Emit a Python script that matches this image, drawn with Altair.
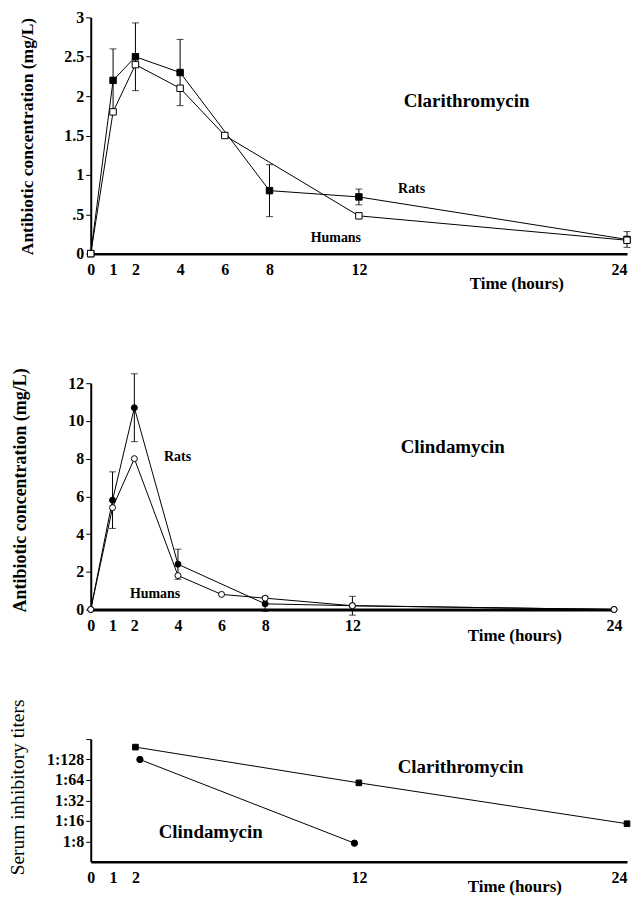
import altair as alt
import pandas as pd

FONT = "Liberation Serif"

# ---------------- data ----------------
x_ticks = [0, 1, 2, 4, 6, 8, 12, 24]
x_ticks_sit = [0, 1, 2, 12, 24]

# Clarithromycin serum concentration (mg/L)
cla_rat_t = [0, 1, 2, 4, 8, 12, 24]
cla_rat_v = [0, 2.2, 2.5, 2.3, 0.8, 0.72, 0.18]
cla_rat_err = [0, 0.4, 0.43, 0.42, 0.33, 0.1, 0.1]
cla_hum_t = [0, 1, 2, 4, 6, 12, 24]
cla_hum_v = [0, 1.8, 2.4, 2.1, 1.5, 0.48, 0.17]
cla_y_ticks = [0, 0.5, 1, 1.5, 2, 2.5, 3]

# Clindamycin serum concentration (mg/L)
cli_rat_t = [0, 1, 2, 4, 8, 12, 24]
cli_rat_v = [0, 5.8, 10.7, 2.4, 0.3, 0.2, 0.0]
cli_rat_err = [0, 1.5, 1.8, 0.8, 0.4, 0.5, 0]
cli_hum_t = [0, 1, 2, 4, 6, 8, 12, 24]
cli_hum_v = [0, 5.4, 8.0, 1.8, 0.8, 0.6, 0.2, 0.0]
cli_y_ticks = [0, 2, 4, 6, 8, 10, 12]

# Serum inhibitory titers (reciprocal of dilution); axis is in log2 units
sit_cla_t = [2, 12, 24]
sit_cla_v = [195, 58, 14.5]
sit_cli_t = [2.2, 11.8]
sit_cli_v = [128, 7.5]
sit_y_ticks_log2 = [3, 4, 5, 6, 7, 8]   # 1:8 ... 1:256
sit_y_domain_log2 = [2, 8]              # 1:4 ... 1:256

# annotations (data coordinates)
ann_top = pd.DataFrame({"t": [16.82, 14.36, 10.97], "v": [1.94, 0.82, 0.2],
                        "txt": ["Clarithromycin", "Rats", "Humans"], "fs": [19, 14, 14]})
ann_mid = pd.DataFrame({"t": [16.6, 3.98, 2.95], "v": [8.6, 8.08, 0.83],
                        "txt": ["Clindamycin", "Rats", "Humans"], "fs": [19, 14, 14]})
ann_bot = pd.DataFrame({"t": [16.55, 5.37], "v": [99, 11.0],
                        "txt": ["Clarithromycin", "Clindamycin"], "fs": [19, 19]})

XTITLE = "Time (hours)"


def xaxis(values, title_x, title_y, dw=2.5, flush_last=True):
    kw = dict(values=values, title=XTITLE, titleFont=FONT, titleFontSize=17,
              titleFontWeight="bold", titleX=title_x, titleY=title_y,
              titleAlign="center", titleBaseline="middle",
              labelFont=FONT, labelFontSize=16, labelFontWeight="bold",
              labelPadding=8, tickSize=0, domainWidth=dw, domainColor="black",
              labelColor="black", titleColor="black", grid=False, labelFlush=False,
              labelOverlap=False, labelExpr="format(datum.value, 'd')")
    if flush_last:
        kw["labelAlign"] = {"condition": {"test": "datum.value == 24", "value": "right"},
                            "value": "center"}
    return alt.Axis(**kw)


def yaxis(values, title, title_x, title_y, fs, weight="bold", label_expr=None):
    kw = dict(values=values, title=title, titleFont=FONT, titleFontSize=fs,
              titleFontWeight=weight, titleX=title_x, titleY=title_y, titleAngle=-90,
              titleAlign="center", titleBaseline="middle",
              labelFont=FONT, labelFontSize=16, labelFontWeight="bold",
              labelPadding=2, tickSize=5, tickColor="black", domainWidth=2,
              domainColor="black", labelColor="black", titleColor="black", grid=False,
              labelFlush=False, labelOverlap=False)
    if label_expr:
        kw["labelExpr"] = label_expr
    return alt.Axis(**kw)


def series_df(t, v, err=None):
    d = {"t": t, "v": v}
    if err is not None:
        d["lo"] = [a - e for a, e in zip(v, err)]
        d["hi"] = [a + e for a, e in zip(v, err)]
        d["e"] = err
    return pd.DataFrame(d)


def panel(width, height, xsc, ysc, xax, yax, ytitle, series, errs, ann, log2=False):
    yfield = "ly:Q" if log2 else "v:Q"

    def base(df):
        c = alt.Chart(df)
        if log2:
            c = c.transform_calculate(ly="log(datum.v) / LN2")
        return c

    X = lambda f: alt.X(f, scale=xsc, axis=xax, title=XTITLE)
    Y = lambda f: alt.Y(f, scale=ysc, axis=yax, title=ytitle)
    layers = []
    for df, shape, filled, size in series:
        layers.append(base(df).mark_line(color="black", strokeWidth=1).encode(
            x=X("t:Q"), y=Y(yfield)))
    for df in errs:
        d = df[df["e"] > 0]
        layers.append(alt.Chart(d).mark_errorbar(ticks=alt.TickConfig(size=7), color="black",
                                                 thickness=1).encode(
            x=X("t:Q"), y=Y("lo:Q"), y2="hi:Q"))
    for df, shape, filled, size in series:
        fill = "black" if filled else "white"
        layers.append(base(df).mark_point(shape=shape, filled=True, fill=fill,
                                          stroke="black", strokeWidth=1, size=size,
                                          opacity=1).encode(
            x=X("t:Q"), y=Y(yfield)))
    layers.append(base(ann).mark_text(font=FONT, fontWeight="bold", color="black",
                                      align="center", baseline="middle").encode(
        x=X("t:Q"), y=Y(yfield), text="txt:N",
        size=alt.Size("fs:Q", scale=None, legend=None)))
    return alt.layer(*layers).properties(width=width, height=height)


xsc = alt.Scale(domain=[0, 24], nice=False, zero=False)

T1 = "Antibiotic concentration (mg/L)"
top = panel(
    538, 237, xsc, alt.Scale(domain=[0, 3], nice=False),
    xaxis(x_ticks, 427, 30),
    yaxis(cla_y_ticks, T1, -63, 119, 17.5,
          label_expr="datum.value == 0.5 ? '.5' : format(datum.value, '~g')"),
    T1,
    [(series_df(cla_rat_t, cla_rat_v), "square", True, 42),
     (series_df(cla_hum_t, cla_hum_v), "square", False, 42)],
    [series_df(cla_rat_t, cla_rat_v, cla_rat_err)],
    ann_top,
)

mid = panel(
    525, 227, xsc, alt.Scale(domain=[0, 12], nice=False),
    xaxis(x_ticks, 425, 26, dw=3, flush_last=False),
    yaxis(cli_y_ticks, T1, -70, 107, 18, label_expr="format(datum.value, 'd')"),
    T1,
    [(series_df(cli_rat_t, cli_rat_v), "circle", True, 36),
     (series_df(cli_hum_t, cli_hum_v), "circle", False, 36)],
    [series_df(cli_rat_t, cli_rat_v, cli_rat_err)],
    ann_mid,
)

T3 = "Serum inhibitory titers"
bot = panel(
    538, 123, xsc, alt.Scale(domain=sit_y_domain_log2, nice=False, zero=False),
    xaxis(x_ticks_sit, 425, 25),
    yaxis(sit_y_ticks_log2, T3, -73, 48, 19.5, weight="normal",
          label_expr="datum.value == 8 ? '' : '1:' + format(pow(2, datum.value), 'd')"),
    T3,
    [(series_df(sit_cla_t, sit_cla_v), "square", True, 32),
     (series_df(sit_cli_t, sit_cli_v), "circle", True, 40)],
    [],
    ann_bot,
    log2=True,
)

chart = alt.vconcat(top, mid, bot, spacing=130, bounds="flush").properties(
    padding={"left": 0, "top": 0, "right": 0, "bottom": 0}
).configure_view(stroke=None)

chart.save("out.html", embed_options={"renderer": "svg", "actions": False})
